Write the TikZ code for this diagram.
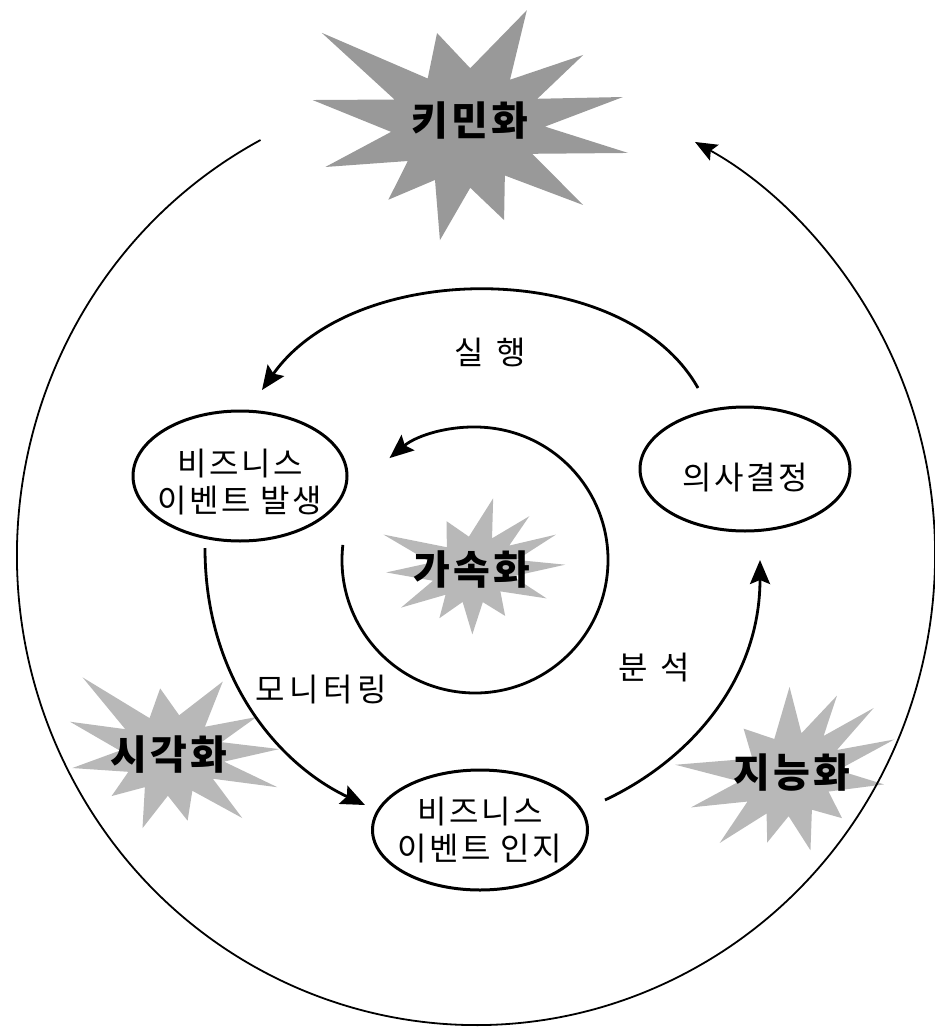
\documentclass[tikz,border=0pt]{standalone}
\usepackage{fontspec}
\setmainfont[LetterSpace=8]{Noto Sans CJK KR}
\usetikzlibrary{shapes.geometric,arrows.meta}

% irregular twelve-point burst: #1 centre, #2 scale, #3 rotation, #4 fill style
\newcommand\drawburst[4]{%
  \fill[#4,shift={#1},scale=#2,rotate=#3]
    (8.7:165) -- (21:72) -- (33.1:141) -- (50:62) -- (67:100) -- (85:60)
    -- (102.6:115) -- (120:60) -- (136.9:105) -- (150:66) -- (164.4:145)
    -- (177:74) -- (190.4:155) -- (202:76) -- (213.6:172) -- (233:62)
    -- (253.6:99) -- (275:60) -- (297.7:133) -- (313:66) -- (328.3:139)
    -- (338:78) -- (348.9:161) -- (359:80) -- cycle;}

\begin{document}
\begin{tikzpicture}[x=1pt,y=-1pt,
  evt/.style={ellipse,draw,line width=3pt,inner sep=0pt},
  evttext/.style={align=center,font=\fontsize{32}{37}\selectfont},
  tag/.style={font=\fontsize{32}{36}\selectfont\addfontfeature{LetterSpace=14}},
  widetag/.style={font=\fontsize{32}{36}\selectfont\addfontfeature{LetterSpace=40}},
  burstlabel/.style={font=\fontsize{40}{42}\selectfont\bfseries},
  flow/.style={line width=2.8pt,-{Stealth[length=24pt,width=20pt,inset=4pt]}},
  outerflow/.style={line width=1.8pt,-{Stealth[length=22pt,width=18pt,inset=4pt]}},
  darkburst/.style={fill=black!40},
  lightburst/.style={fill=black!28}
]
\useasboundingbox (0,0) rectangle (934,1027);

% grey bursts behind the labels
\drawburst{(465,128)}{1}{0}{darkburst}
\drawburst{(473,570)}{0.56}{12}{lightburst}
\drawburst{(170,755)}{0.68}{-8}{lightburst}
\drawburst{(790,776)}{0.67}{28}{lightburst}

% burst labels
\node[burstlabel] (agile) at (470,121) {키민화};
\node[burstlabel] (accel) at (472,569) {가속화};
\node[burstlabel] (visual) at (169,755) {시각화};
\node[burstlabel] (intel) at (792,773) {지능화};

% event nodes
\node[evt,minimum width=214pt,minimum height=130pt,
  label={[evttext,yshift=-6pt]center:비즈니스\\이벤트 발생}] (occ) at (240,476) {};
\node[evt,minimum width=210pt,minimum height=124pt,
  label={[evttext,yshift=-9pt]center:의사결정}] (dec) at (745,469) {};
\node[evt,minimum width=215pt,minimum height=120pt,
  label={[evttext]center:비즈니스\\이벤트 인지}] (rec) at (480,830) {};

% free ends of the connectors, just off the ellipses
\coordinate (run-a) at (698,388);
\coordinate (run-b) at (262,390);
\coordinate (mon-a) at (205,548);
\coordinate (mon-b) at (365,805);
\coordinate (ana-a) at (605,800);
\coordinate (ana-b) at (760,560);
\coordinate (innerc) at (475,560);
\coordinate (outerc) at (476,555);

% cycle connectors
\draw[flow] (run-a) .. controls (625,258) and (355,258) .. (run-b);
\draw[flow] (mon-a) .. controls (205,680) and (280,765) .. (mon-b);
\draw[flow] (ana-a) .. controls (690,760) and (760,680) .. (ana-b);

% inner loop round the acceleration burst
\draw[flow] (innerc) ++(186.5:133) arc[start angle=186.5,end angle=-130,radius=133];

% outer loop
\draw[outerflow] (outerc) ++(242:459 and 470)
  arc[start angle=242,end angle=-61.5,x radius=459,y radius=470];

% connector labels
\node[widetag] (lrun) at (490,352) {실행};
\node[tag] (lmon) at (321,690) {모니터링};
\node[widetag] (lana) at (654,668) {분석};
\end{tikzpicture}
\end{document}
